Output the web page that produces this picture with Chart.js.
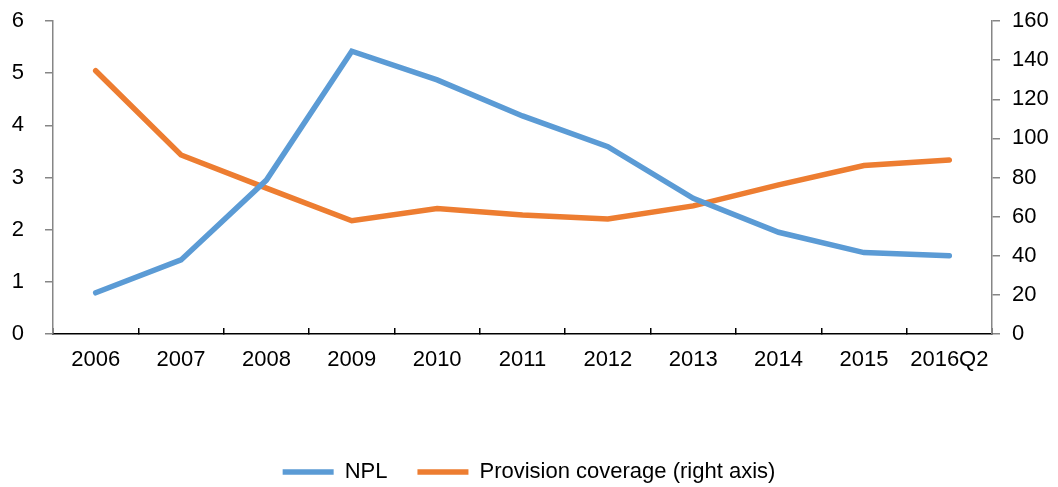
<!DOCTYPE html>
<html>
<head>
<meta charset="utf-8">
<script src="https://cdn.jsdelivr.net/npm/chart.js@4"></script>
<style>
  html, body { margin: 0; padding: 0; background: #fff; }
  #wrap { width: 1058px; height: 487px; }
</style>
</head>
<body>
<div id="wrap"><canvas id="npl-chart" width="1058" height="487"></canvas></div>
<script>
// Chart data
var years = ['2006', '2007', '2008', '2009', '2010', '2011', '2012', '2013', '2014', '2015', '2016Q2'];
var nplValues = [0.79, 1.42, 2.95, 5.42, 4.87, 4.18, 3.59, 2.6, 1.95, 1.56, 1.5];
var coverageValues = [134.6, 91.5, 74.6, 57.9, 64.2, 60.8, 58.8, 65.5, 76.2, 86.1, 89];
var leftTicks = [0, 1, 2, 3, 4, 5, 6];
var rightTicks = [0, 20, 40, 60, 80, 100, 120, 140, 160];

var axisGray = '#868686';
var font = { family: "'Liberation Sans', Arial, sans-serif", size: 22 };

Chart.defaults.font.family = font.family;
Chart.defaults.color = '#000';

// y axes: keep their label overflow out of the layout so the plot top sits at 21px
function fitYAxis(width) {
  return function (scale) {
    scale.width = width;
    scale.paddingTop = 0;
    scale.paddingBottom = 0;
  };
}

var chartConfig = {
  type: 'line',
  data: {
    labels: years,
    datasets: [{
      label: 'NPL',
      data: nplValues,
      borderColor: '#5B9BD5',
      backgroundColor: '#5B9BD5',
      borderWidth: 5.5,
      borderCapStyle: 'round',
      pointRadius: 0,
      tension: 0,
      yAxisID: 'y'
    }, {
      label: 'Provision coverage (right axis)',
      data: coverageValues,
      borderColor: '#ED7D31',
      backgroundColor: '#ED7D31',
      borderWidth: 5.5,
      borderCapStyle: 'round',
      pointRadius: 0,
      tension: 0,
      yAxisID: 'y1'
    }]
  },
  options: {
    responsive: false,
    animation: false,
    layout: { padding: { top: 21, bottom: -6, left: 0, right: 0 } },
    plugins: {
      tooltip: { enabled: false },
      legend: {
        position: 'bottom',
        labels: {
          font: font,
          color: '#000',
          usePointStyle: true,
          pointStyle: 'line',
          pointStyleWidth: 51,
          padding: 30
        }
      }
    },
    scales: {
      x: {
        offset: true,
        grid: {
          offset: true,
          drawOnChartArea: false,
          drawTicks: true,
          tickLength: -6,
          color: '#000',
          lineWidth: 1.5
        },
        border: { color: '#000', width: 1.5 },
        ticks: { font: font, color: '#000', padding: 19, maxRotation: 0, autoSkip: false },
        afterFit: function (scale) { scale.height = 97; }
      },
      y: {
        position: 'left',
        min: 0,
        max: 6,
        afterBuildTicks: function (scale) {
          scale.ticks = leftTicks.map(function (v) { return { value: v }; });
        },
        grid: { drawOnChartArea: false, tickLength: 8, color: axisGray, lineWidth: 1.5 },
        border: { color: axisGray, width: 1.5 },
        ticks: { font: font, color: '#000', padding: 21 },
        afterFit: fitYAxis(53)
      },
      y1: {
        position: 'right',
        min: 0,
        max: 160,
        afterBuildTicks: function (scale) {
          scale.ticks = rightTicks.map(function (v) { return { value: v }; });
        },
        grid: { drawOnChartArea: false, tickLength: 8, color: axisGray, lineWidth: 1.5 },
        border: { color: axisGray, width: 1.5 },
        ticks: { font: font, color: '#000', padding: 12 },
        afterFit: fitYAxis(66)
      }
    }
  }
};

var nplChart = new Chart(document.getElementById('npl-chart'), chartConfig);
</script>
</body>
</html>
